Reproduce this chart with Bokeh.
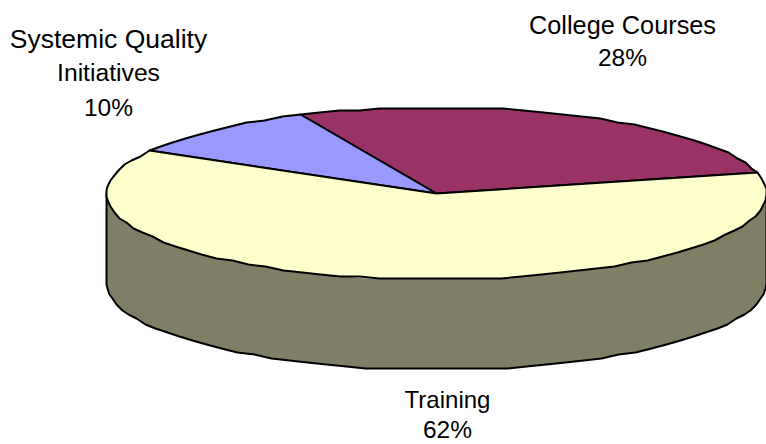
import numpy as np
from bokeh.plotting import figure
from bokeh.models import Range1d, ColumnDataSource
from bokeh.core.properties import value
from bokeh.embed import file_html
from bokeh.resources import INLINE

# data
categories = ["College Courses", "Systemic Quality", "Training"]
percents = [28, 10, 62]
colors = ["#993366", "#9999FF", "#FFFFCC"]
side_color = "#7F7F66"
start_angle = 13.5  # degrees

# drawing frame
W, H = 766, 444
cx, cy, rx, ry, depth = 436, 193, 330, 86, 90

p = figure(width=W, height=H, output_backend="svg", toolbar_location=None,
           x_range=Range1d(0, W), y_range=Range1d(H, 0), min_border=0)
p.axis.visible = False
p.grid.visible = False
p.outline_line_color = None


def rim(a0, a1, dy=0.0):
    """Faceted rim: coarse vertices snapped to a 2px grid, like the original edge."""
    n = max(2, int(abs(a1 - a0) / 3.5))
    t = np.radians(np.linspace(a0, a1, n + 1))
    xs = cx + rx * np.cos(t)
    ys = cy - ry * np.sin(t) + dy
    return np.round(xs), np.round(ys / 2) * 2


# side wall: fill, then the visible outer edge only
tx, ty = rim(180, 360)
bx, by = rim(360, 180, depth)
p.patch(list(tx) + list(bx), list(ty) + list(by), fill_color=side_color, line_color=None)
p.line([cx + rx] + list(bx) + [cx - rx], [cy] + list(by) + [cy],
       line_color="black", line_width=2, line_join="round")

# top slices
a = start_angle
for pct, col in zip(percents, colors):
    b = a + pct * 3.6
    xs, ys = rim(a, b)
    p.patch([cx] + list(xs), [cy] + list(ys), fill_color=col,
            line_color="black", line_width=2, line_join="round")
    a = b

# labels
label_text = ["College Courses", "28%", "Systemic Quality", "Initiatives", "10%", "Training", "62%"]
label_x = [622, 622, 108, 108, 108, 447, 447]
label_y = [24, 57, 38, 72, 107, 399, 429]
label_size = ["25.3px", "24.5px", "26.5px", "24.7px", "24.5px", "24px", "24.5px"]
src = ColumnDataSource(dict(x=label_x, y=label_y, text=label_text, size=label_size))
p.text(x="x", y="y", text="text", source=src, text_font=value("Liberation Sans"),
       text_font_size="size", text_color="black", text_align="center",
       text_baseline="alphabetic")

open("out.html", "w").write(file_html(p, INLINE))
